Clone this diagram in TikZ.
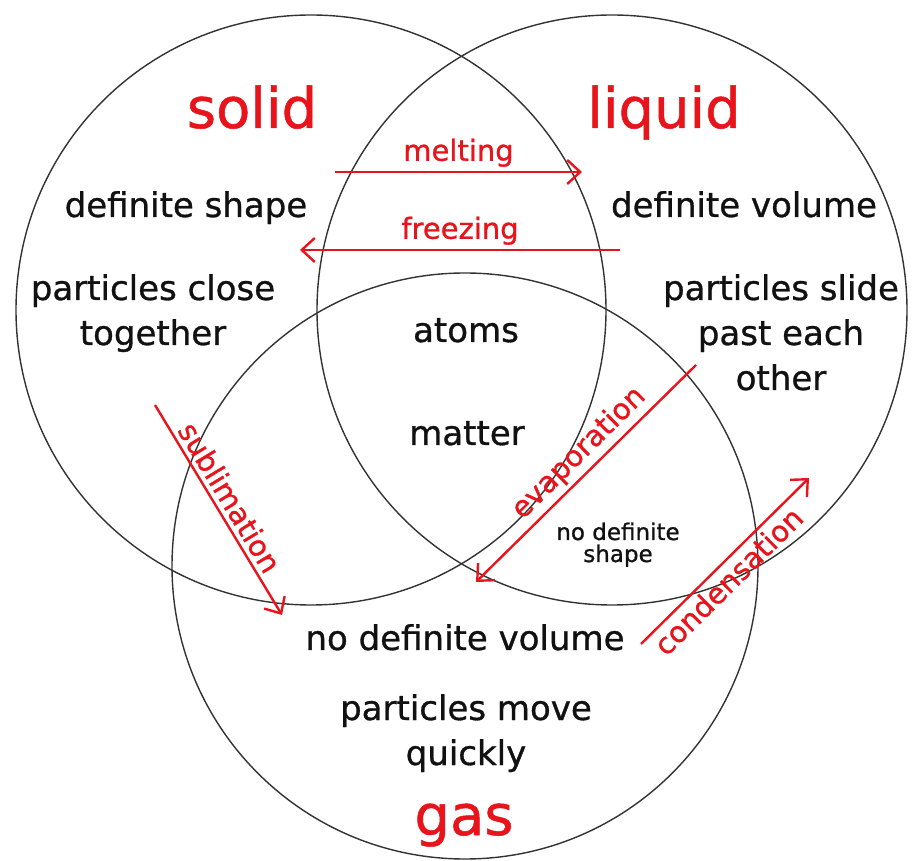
\documentclass[tikz,border=0pt]{standalone}
\usepackage{fontspec}
\setmainfont{DejaVu Sans}
\newfontface\handfont{DejaVu Sans}[FakeBold=0.9]
\usetikzlibrary{arrows.meta}
\definecolor{stbg}{HTML}{FFFFFF}
\definecolor{sttext}{HTML}{111111}
\definecolor{stred}{HTML}{E8141C}
\definecolor{stline}{HTML}{333333}
\tikzset{
  ring/.style={circle, draw=stline, line width=1.4pt, minimum size=590pt, inner sep=0pt},
  phase/.style={text=stred, font=\handfont\fontsize{56}{60}\selectfont, anchor=base, inner sep=0pt},
  fact/.style={text=sttext, font=\handfont\fontsize{34}{45}\selectfont, align=center, anchor=base, inner sep=0pt},
  factsm/.style={text=sttext, font=\handfont\fontsize{23}{22}\selectfont, align=center, anchor=base, inner sep=0pt},
  chg/.style={draw=stred, line width=2.4pt, -{Straight Barb[length=13pt, width=24pt, line width=2.4pt]}},
  chgback/.style={draw=stred, line width=2.4pt, {Straight Barb[length=13pt, width=24pt, line width=2.4pt]}-},
  chglbl/.style={text=stred, font=\handfont\fontsize{29}{32}\selectfont, inner sep=4pt},
}
\begin{document}
\begin{tikzpicture}[x=1pt, y=1pt]
      \useasboundingbox[fill=stbg] (0,0) rectangle (913,860);
      % the three sets
      \node[ring] (solidset) at (311,550) {};
      \node[ring] (liquidset) at (612,550) {};
      \node[ring, minimum size=586pt] (gasset) at (465,294) {};
      \node[phase] (solid) at (252,732) {solid};
      \node[phase] (liquid) at (664,732) {liquid};
      \node[phase] (gas) at (464,25) {gas};
      % what each state is like (multi-line: base = last line)
      \node[fact] (defshape) at (186,643) {definite shape};
      \node[fact] (close) at (153,515) {particles close\\together};
      \node[fact] (defvol) at (744,643) {definite volume};
      \node[fact] (slide) at (781,470) {particles slide\\past each\\other};
      \node[fact] (atoms) at (466,518) {atoms};
      \node[fact] (matter) at (467,415) {matter};
      \node[factsm] (noshape) at (618,298) {no definite\\shape};
      \node[fact] (novol) at (465,210) {no definite volume};
      \node[fact] (move) at (466,95) {particles move\\quickly};
      % changes of state
      \coordinate (meltA) at (335,688);
      \coordinate (meltB) at (582,688);
      \coordinate (freezeA) at (620,610);
      \coordinate (freezeB) at (300,610);
      \coordinate (sublA) at (155,455);
      \coordinate (sublB) at (282,245);
      \coordinate (evapA) at (696,495);
      \coordinate (evapB) at (476,278);
      \coordinate (condA) at (641,216);
      \coordinate (condB) at (809,382);
      \draw[chg] (meltA) -- node[chglbl, above, midway] {melting} (meltB);
      \draw[chg] (freezeA) -- node[chglbl, above, midway] {freezing} (freezeB);
      \draw[chg] (sublA) -- node[chglbl, sloped, above, pos=0.48] {sublimation} (sublB);
      \draw[chgback] (evapB) -- node[chglbl, sloped, above, pos=0.53] {evaporation} (evapA);
      \draw[chg] (condA) -- node[chglbl, sloped, below, pos=0.45] {condensation} (condB);
    \end{tikzpicture}
\end{document}
